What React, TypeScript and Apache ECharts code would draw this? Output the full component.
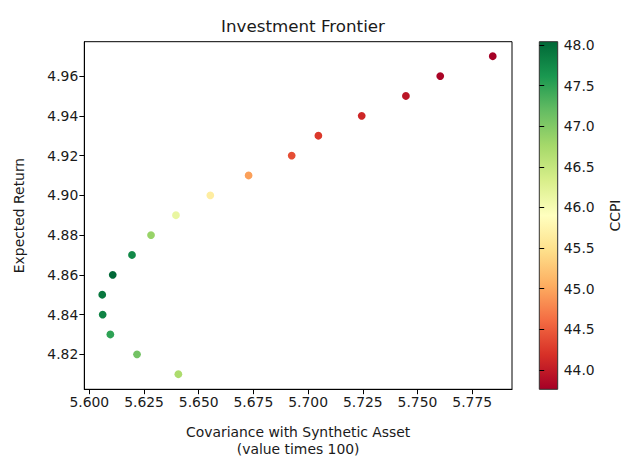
import React, { useEffect, useRef } from "react";
import * as echarts from "echarts";

const covariance = [
  5.7844, 5.7604, 5.7447, 5.7245, 5.7047, 5.6925, 5.6728, 5.6553, 5.6396,
  5.6282, 5.6195, 5.6107, 5.6059, 5.6061, 5.6096, 5.6218, 5.6407,
];
const expectedReturn = [
  4.97, 4.96, 4.95, 4.94, 4.93, 4.92, 4.91, 4.9, 4.89, 4.88, 4.87, 4.86, 4.85,
  4.84, 4.83, 4.82, 4.81,
];
const ccpi = [
  43.76, 43.8, 43.95, 44.1, 44.25, 44.4, 44.95, 45.65, 46.15, 46.85, 47.75,
  48.04, 47.9, 47.8, 47.5, 47.1, 46.7,
];
const xTicks = [5.6, 5.625, 5.65, 5.675, 5.7, 5.725, 5.75, 5.775];
const yTicks = [4.82, 4.84, 4.86, 4.88, 4.9, 4.92, 4.94, 4.96];
const cTicks = [44.0, 44.5, 45.0, 45.5, 46.0, 46.5, 47.0, 47.5, 48.0];
const rdYlGn = [
  "#a50026", "#d73027", "#f46d43", "#fdae61", "#fee08b", "#ffffbf",
  "#d9ef8b", "#a6d96a", "#66bd63", "#1a9850", "#006837",
];

const FONT = "DejaVu Sans";
const TXT = "#1a1a1a";

export default function App() {
  const ref = useRef<HTMLDivElement>(null);
  useEffect(() => {
    if (!ref.current) return;
    const chart = echarts.init(ref.current, null, { renderer: "svg" });
    const data = covariance.map((x, i) => [x, expectedReturn[i], ccpi[i]]);
    const cMin = Math.min(...ccpi);
    const cMax = Math.max(...ccpi);
    const gradient = new echarts.graphic.LinearGradient(
      0, 0, 0, 1,
      rdYlGn
        .slice()
        .reverse()
        .map((c, i) => ({ offset: i / (rdYlGn.length - 1), color: c }))
    );
    const tickStyle = { show: true, length: 4.9, lineStyle: { color: "#000", width: 1 } };
    chart.setOption({
      animation: false,
      backgroundColor: "#fff",
      textStyle: { fontFamily: FONT },
      title: {
        text: "Investment Frontier",
        left: 298,
        top: 12,
        textAlign: "center",
        textStyle: { fontFamily: FONT, fontSize: 16.7, fontWeight: "normal", color: TXT },
      },
      grid: [
        {
          left: 84.3, right: 110, top: 41.7, bottom: 67.7,
          outerBoundsMode: "none", containLabel: false,
          show: true, borderColor: "#000", borderWidth: 1,
        },
        {
          left: 539.3, right: 64.3, top: 41.7, bottom: 67.7,
          outerBoundsMode: "none", containLabel: false,
          show: true, borderColor: "#333", borderWidth: 1, backgroundColor: gradient,
        },
      ],
      xAxis: [
        {
          type: "value", gridIndex: 0, min: 5.5977, max: 5.7932,
          name: "Covariance with Synthetic Asset\n(value times 100)",
          nameLocation: "middle", nameGap: 34,
          nameTextStyle: { fontFamily: FONT, fontSize: 13.9, color: TXT, lineHeight: 17 },
          axisLine: { show: true, lineStyle: { color: "#000" } },
          axisTick: { ...tickStyle, customValues: xTicks },
          axisLabel: {
            customValues: xTicks, formatter: (v: number) => v.toFixed(3),
            fontFamily: FONT, fontSize: 13.9, color: TXT, margin: 6,
          },
          splitLine: { show: false },
        },
        {
          type: "value", gridIndex: 1, show: false, min: 0, max: 1,
        },
      ],
      yAxis: [
        {
          type: "value", gridIndex: 0, min: 4.8024, max: 4.9773,
          name: "Expected Return", nameLocation: "middle", nameGap: 58,
          nameTextStyle: { fontFamily: FONT, fontSize: 13.9, color: TXT },
          axisLine: { show: true, lineStyle: { color: "#000" } },
          axisTick: { ...tickStyle, customValues: yTicks },
          axisLabel: {
            customValues: yTicks, formatter: (v: number) => v.toFixed(2),
            fontFamily: FONT, fontSize: 13.9, color: TXT, margin: 6,
          },
          splitLine: { show: false },
        },
        {
          type: "value", gridIndex: 1, position: "right", min: cMin, max: cMax,
          name: "CCPI", nameLocation: "middle", nameGap: 50, nameRotate: 90,
          nameTextStyle: { fontFamily: FONT, fontSize: 13.9, color: TXT },
          axisLine: { show: false },
          axisTick: { ...tickStyle, customValues: cTicks },
          axisLabel: {
            customValues: cTicks, formatter: (v: number) => v.toFixed(1),
            fontFamily: FONT, fontSize: 13.9, color: TXT, margin: 6,
          },
          splitLine: { show: false },
        },
      ],
      visualMap: {
        type: "continuous", show: false, seriesIndex: 0, dimension: 2,
        min: cMin, max: cMax, inRange: { color: rdYlGn },
      },
      series: [
        {
          type: "scatter", xAxisIndex: 0, yAxisIndex: 0, data,
          symbolSize: 7.8, itemStyle: { opacity: 1 },
        },
      ],
    });
    return () => chart.dispose();
  }, []);
  return (
    <div
      ref={ref}
      style={{ position: "fixed", left: 0, top: 0, width: 622, height: 457 }}
    />
  );
}
